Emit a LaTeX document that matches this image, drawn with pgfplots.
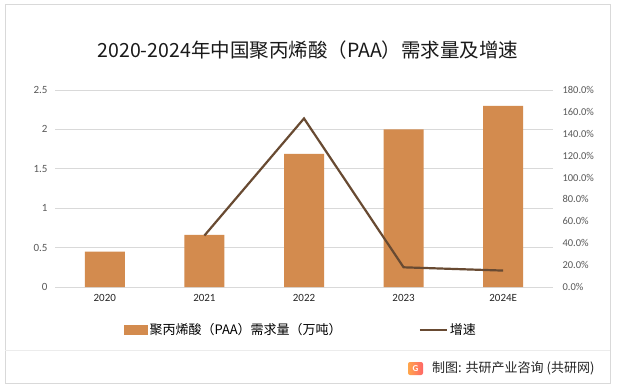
\documentclass[border=0pt]{standalone}
\usepackage{pgfplots}
\pgfplotsset{compat=1.18}
\usepackage{fontspec}
\setmainfont{Carlito}
\newfontfamily\cjk{Noto Sans CJK SC}
\definecolor{barc}{RGB}{211,139,78}
\definecolor{linec}{RGB}{104,74,50}
\definecolor{gridc}{RGB}{217,217,217}
\definecolor{tickc}{RGB}{89,89,89}
\definecolor{borderc}{RGB}{217,217,217}
\begin{document}
\begin{tikzpicture}[x=1bp,y=1bp]
\fill[white] (0,0) rectangle (617,390);
\draw[borderc, line width=1bp] (5,7) rectangle (610,385);
\draw[gray!15, line width=1bp] (5,40) -- (610,40);
\node[font=\cjk\fontsize{19.5bp}{22bp}\selectfont, text=black!90] at (308,340) {2020-2024年中国聚丙烯酸（PAA）需求量及增速};
\begin{axis}[
  at={(55bp,103bp)}, anchor=south west,
  width=498bp, height=197bp, scale only axis,
  xmin=-0.5, xmax=4.5, ymin=0, ymax=2.5,
  ytick={0,0.5,1,1.5,2,2.5},
  xtick={0,1,2,3,4},
  xticklabels={2020,2021,2022,2023,2024E},
  ymajorgrids, grid style={gridc, line width=0.8bp},
  axis line style={draw=none},
  major tick length=0pt,
  /pgf/number format/assume math mode=true,
  tick label style={font=\fontsize{11bp}{13bp}\selectfont},
  yticklabel style={text=tickc, xshift=-4bp},
  xticklabel style={text=black!85, yshift=-4bp},
  ybar, bar width=40bp,
]
\addplot[fill=barc, draw=none] coordinates {(0,0.45) (1,0.66) (2,1.69) (3,2.0) (4,2.3)};
\end{axis}
\begin{axis}[
  at={(55bp,103bp)}, anchor=south west,
  width=498bp, height=197bp, scale only axis,
  xmin=-0.5, xmax=4.5, ymin=0, ymax=180,
  ytick={0,20,...,180},
  axis y line*=right, hide x axis,
  axis line style={draw=none},
  major tick length=0pt,
  /pgf/number format/assume math mode=true,
  yticklabel={\pgfmathprintnumber[fixed,fixed zerofill,precision=1]{\tick}\%},
  yticklabel style={font=\fontsize{10.5bp}{12bp}\selectfont, text=tickc, xshift=6bp},
  legend style={at={(0.494,-0.218)}, anchor=center, draw=none, fill=none,
    font=\cjk\fontsize{13bp}{15bp}\selectfont, legend columns=2,
    /tikz/every even column/.append style={column sep=75bp}},
]
\addlegendimage{legend image code/.code={\fill[barc] (0bp,-4bp) rectangle (23bp,5bp);}}
\addlegendentry{聚丙烯酸（PAA）需求量（万吨）}
\addplot[linec, line width=2.2bp, mark=none, legend image code/.code={\draw[linec, line width=2.2bp] (0bp,0bp) -- (27bp,0bp);}] coordinates {(1,47) (2,154) (3,18) (4,15)};
\addlegendentry{增速}
\end{axis}
\shade[left color=orange!70, right color=red!60, rounded corners=2bp] (408,15) rectangle (423,28);
\node[font=\bfseries\fontsize{9bp}{10bp}\selectfont, text=white] at (415.5,21.5) {G};
\node[anchor=west, font=\cjk\fontsize{13bp}{15bp}\selectfont, text=black!85, inner sep=0pt] at (432,22) {制图: 共研产业咨询 (共研网)};
\end{tikzpicture}
\end{document}
